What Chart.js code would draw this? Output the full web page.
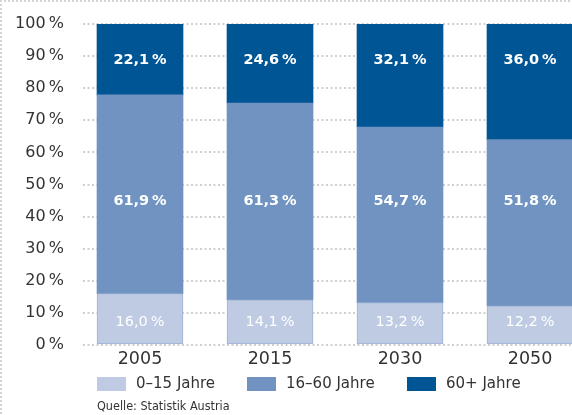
<!DOCTYPE html>
<html>
<head>
<meta charset="utf-8">
<script src="https://cdn.jsdelivr.net/npm/chart.js@4"></script>
<style>
  html, body { margin: 0; padding: 0; background: #fff; }
  #wrap { position: relative; width: 572px; height: 415px; overflow: hidden; }
  #frame { position: absolute; left: 0; top: 0; width: 600px; height: 600px;
           border-left: 2px dotted #d4d4d4; border-top: 2px dotted #d4d4d4; pointer-events: none; }
  .lg { position: absolute; font-family: "DejaVu Sans", sans-serif; font-size: 15px; color: #333; white-space: nowrap; }
  .box { position: absolute; width: 29px; height: 14px; }
  #src { position: absolute; left: 97px; top: 398px; font-family: "DejaVu Sans Condensed", "DejaVu Sans", sans-serif; font-size: 12.5px; color: #333; }
  canvas { display: block; }
</style>
</head>
<body>
<div id="wrap">
  <canvas id="c" width="572" height="415"></canvas>
  <div id="frame"></div>
  <div id="legend"></div>
  <div id="src">Quelle: Statistik Austria</div>
</div>
<script>
// ---- data ----
const years = ["2005", "2015", "2030", "2050"];
const seriesNames = ["0–15 Jahre", "16–60 Jahre", "60+ Jahre"];
const age0to15 = [16.0, 14.1, 13.2, 12.2];
const age16to60 = [61.9, 61.3, 54.7, 51.8];
const age60plus = [22.1, 24.6, 32.1, 36.0];
const yTicks = [0, 10, 20, 30, 40, 50, 60, 70, 80, 90, 100];

// ---- styles ----
const colors = ["#bfcbe3", "#7093c2", "#005595"];
const borderColors = ["#9db2d8", "#7093c2", "#005595"];
const labelFonts = ["14.5px 'DejaVu Sans'", "bold 14.5px 'DejaVu Sans'", "bold 14.5px 'DejaVu Sans'"];
const labelLevels = [7.0, 44.9, 88.8];   // fixed vertical placement of value labels (in axis units)
const legendX = [97, 247, 407];

const seriesValues = [age0to15, age16to60, age60plus];
const datasets = seriesValues.map((vals, s) => ({
  label: seriesNames[s],
  data: vals.map((v, i) => ({ x: i, y: v })),
  backgroundColor: colors[s],
  borderColor: borderColors[s],
  borderWidth: s === 0 ? 1 : 0,
  borderSkipped: false,
  barThickness: 86
}));

const fmt = v => v.toFixed(1).replace('.', ',') + '\u2009%';

const valueLabels = {
  id: 'valueLabels',
  afterDatasetsDraw(chart) {
    const ctx = chart.ctx;
    const ys = chart.scales.y;
    ctx.save();
    ctx.fillStyle = '#ffffff';
    ctx.textAlign = 'center';
    ctx.textBaseline = 'middle';
    chart.data.datasets.forEach((ds, s) => {
      const meta = chart.getDatasetMeta(s);
      ctx.font = labelFonts[s];
      meta.data.forEach((bar, i) => {
        ctx.fillText(fmt(seriesValues[s][i]), bar.x, ys.getPixelForValue(labelLevels[s]));
      });
    });
    ctx.restore();
  }
};

new Chart(document.getElementById('c'), {
  type: 'bar',
  data: { datasets },
  plugins: [valueLabels],
  options: {
    responsive: false,
    animation: false,
    layout: { padding: { top: 24, bottom: 41, left: 0, right: 0 } },
    plugins: { legend: { display: false }, tooltip: { enabled: false } },
    scales: {
      x: {
        type: 'linear',
        stacked: true,
        offset: false,
        grace: 0,
        bounds: 'data',
        min: -0.4385,
        max: 3.323,
        afterBuildTicks: sc => { sc.ticks = years.map((_, i) => ({ value: i })); },
        ticks: {
          callback: v => years[v],
          font: { family: "DejaVu Sans", size: 17.5 },
          color: '#333',
          padding: 4,
          maxRotation: 0,
          autoSkip: false
        },
        grid: { display: false, drawTicks: false, offset: false },
        border: { display: false }
      },
      y: {
        stacked: true,
        min: 0,
        max: 100,
        afterBuildTicks: sc => { sc.ticks = yTicks.map(v => ({ value: v })); },
        afterFit: sc => { sc.width = 83; sc.paddingTop = 0; sc.paddingBottom = 0; },
        ticks: {
          callback: v => v + '\u2009%',
          font: { family: "DejaVu Sans", size: 16 },
          color: '#333',
          padding: 19
        },
        grid: { color: '#cfcfcf', lineWidth: 2, drawTicks: false },
        border: { display: false, dash: [2, 2.5] }
      }
    }
  }
});

// legend (HTML overlay)
const lg = document.getElementById('legend');
seriesNames.forEach((name, s) => {
  const b = document.createElement('div');
  b.className = 'box';
  b.style.left = legendX[s] + 'px';
  b.style.top = '377px';
  b.style.background = colors[s];
  lg.appendChild(b);
  const t = document.createElement('div');
  t.className = 'lg';
  t.style.left = (legendX[s] + 39) + 'px';
  t.style.top = '374px';
  t.textContent = name;
  lg.appendChild(t);
});
</script>
</body>
</html>
